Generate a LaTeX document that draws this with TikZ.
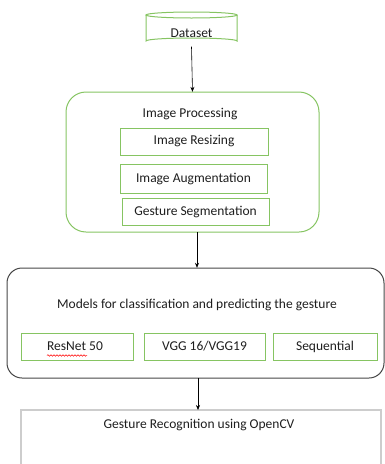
\documentclass[tikz,border=0pt]{standalone}
\usepackage{fontspec}
\setmainfont{Carlito}
\usetikzlibrary{arrows.meta,decorations.pathmorphing,calc}
\definecolor{boxgreen}{RGB}{134,196,98}
\definecolor{frame}{RGB}{70,70,70}
\definecolor{lightframe}{RGB}{205,205,205}
\definecolor{txt}{RGB}{30,30,30}
\tikzset{
  every node/.style={font=\fontsize{13.5}{16}\selectfont, text=txt},
  greenbox/.style={draw=boxgreen, line width=1pt, inner sep=0pt},
  flow/.style={draw=black, line width=0.6pt, -{Stealth[length=5pt,width=4pt]}},
}
\begin{document}
\begin{tikzpicture}[x=1pt,y=-1pt]
  \useasboundingbox (0,0) rectangle (385,464);

  % dataset cylinder
  \node[minimum width=91pt, minimum height=29pt, inner sep=0pt] (data) at (191.5,29) {};
  \draw[boxgreen, line width=1pt]
    (146,15) -- (146,41) arc[start angle=180, end angle=360, x radius=45.5, y radius=3] -- (237,15);
  \draw[boxgreen, line width=1pt, fill=white] (191.5,15) ellipse[x radius=45.5, y radius=3];
  \node at (191.5,33) {Dataset};

  % image processing group
  \draw[greenbox, rounded corners=20pt] (66,92) rectangle (319,232);
  \node[minimum width=253pt, minimum height=140pt, inner sep=0pt] (proc) at (192.5,162) {};
  \node at (190,114) {Image Processing};
  \node[greenbox, minimum width=148pt, minimum height=27pt] (resize) at (194,141.5) {Image Resizing};
  \node[greenbox, minimum width=147pt, minimum height=29pt] (augment) at (193.5,178.5) {Image Augmentation};
  \node[greenbox, minimum width=147pt, minimum height=27pt] (segment) at (195.5,211.5) {Gesture Segmentation};

  % model group
  \draw[frame, line width=1pt, rounded corners=15pt] (7,268) rectangle (384,378);
  \node[minimum width=377pt, minimum height=110pt, inner sep=0pt] (models) at (195.5,323) {};
  \node at (197,305) {Models for classification and predicting the gesture};
  \node[greenbox, minimum width=112pt, minimum height=27pt] (resnet) at (77,346.5) {};
  \node (resnettxt) at (75,346) {ResNet 50};
  \draw[red, line width=0.5pt, decorate, decoration={snake, amplitude=0.8pt, segment length=3pt}]
    (47,355.5) -- (87,355.5);
  \node[greenbox, minimum width=121pt, minimum height=27pt] (vgg) at (204.5,346.5) {VGG 16/VGG19};
  \node[greenbox, minimum width=104pt, minimum height=27pt] (seq) at (325,346.5) {Sequential};

  % output
  \draw[lightframe, line width=1.2pt] (21,470) -- (21,410) -- (381,410) -- (381,470);
  \node[minimum width=360pt, minimum height=40pt, inner sep=0pt, anchor=north] (cv) at (201,410) {};
  \node at (199,425) {Gesture Recognition using OpenCV};

  % connectors
  \draw[flow] ($(data.south)+(0,3)$) -- (proc.north);
  \draw[flow] ($(proc.south)+(4.5,0)$) -- ($(models.north)+(1.5,0)$);
  \draw[flow] ($(models.south)+(2.5,0)$) -- ($(cv.north)+(-3,0)$);
\end{tikzpicture}
\end{document}
